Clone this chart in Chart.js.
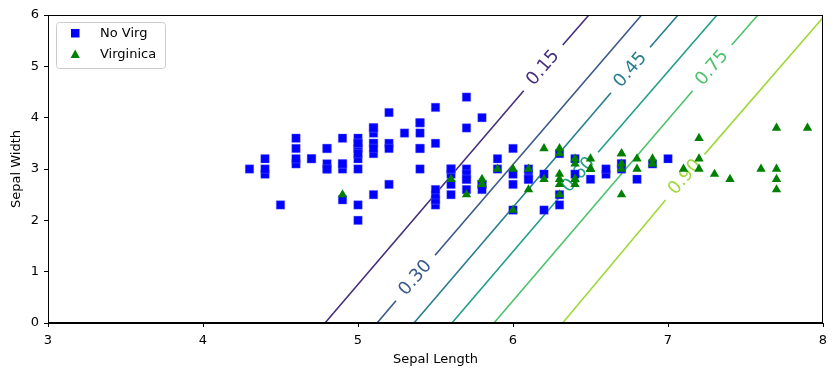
<!DOCTYPE html>
<html><head><meta charset="utf-8">
<script src="https://cdn.jsdelivr.net/npm/chart.js@4.4.0/dist/chart.umd.min.js"></script>
<style>html,body{margin:0;padding:0;background:#fff}#wrap{width:837px;height:376px;position:relative}</style>
</head><body><div id="wrap"><canvas id="c"></canvas></div>
<script>
// ---- data ----
const noVirgX = [5.1,4.9,4.7,4.6,5.0,5.4,4.6,5.0,4.4,4.9,5.4,4.8,4.8,4.3,5.8,5.7,5.4,5.1,5.7,5.1,5.4,5.1,4.6,5.1,4.8,5.0,5.0,5.2,5.2,4.7,4.8,5.4,5.2,5.5,4.9,5.0,5.5,4.9,4.4,5.1,5.0,4.5,4.4,5.0,5.1,4.8,5.1,4.6,5.3,5.0,
  7.0,6.4,6.9,5.5,6.5,5.7,6.3,4.9,6.6,5.2,5.0,5.9,6.0,6.1,5.6,6.7,5.6,5.8,6.2,5.6,5.9,6.1,6.3,6.1,6.4,6.6,6.8,6.7,6.0,5.7,5.5,5.5,5.8,6.0,5.4,6.0,6.7,6.3,5.6,5.5,5.5,6.1,5.8,5.0,5.6,5.7,5.7,6.2,5.1,5.7];
const noVirgY = [3.5,3.0,3.2,3.1,3.6,3.9,3.4,3.4,2.9,3.1,3.7,3.4,3.0,3.0,4.0,4.4,3.9,3.5,3.8,3.8,3.4,3.7,3.6,3.3,3.4,3.0,3.4,3.5,3.4,3.2,3.1,3.4,4.1,4.2,3.1,3.2,3.5,3.6,3.0,3.4,3.5,2.3,3.2,3.5,3.8,3.0,3.8,3.2,3.7,3.3,
  3.2,3.2,3.1,2.3,2.8,2.8,3.3,2.4,2.9,2.7,2.0,3.0,2.2,2.9,2.9,3.1,3.0,2.7,2.2,2.5,3.2,2.8,2.5,2.8,2.9,3.0,2.8,3.0,2.9,2.6,2.4,2.4,2.7,2.7,3.0,3.4,3.1,2.3,3.0,2.5,2.6,3.0,2.6,2.3,2.7,3.0,2.9,2.9,2.5,2.8];
const virgX = [6.3,5.8,7.1,6.3,6.5,7.6,4.9,7.3,6.7,7.2,6.5,6.4,6.8,5.7,5.8,6.4,6.5,7.7,7.7,6.0,6.9,5.6,7.7,6.3,6.7,7.2,6.2,6.1,6.4,7.2,7.4,7.9,6.4,6.3,6.1,7.7,6.3,6.4,6.0,6.9,6.7,6.9,5.8,6.8,6.7,6.7,6.3,6.5,6.2,5.9];
const virgY = [3.3,2.7,3.0,2.9,3.0,3.0,2.5,2.9,2.5,3.6,3.2,2.7,3.0,2.5,2.8,3.2,3.0,3.8,2.6,2.2,3.2,2.8,2.8,2.7,3.3,3.2,2.8,3.0,2.8,3.0,2.8,3.8,2.8,2.8,2.6,3.0,3.4,3.1,3.0,3.1,3.1,3.1,2.7,3.2,3.3,3.0,2.5,3.0,3.4,3.0];

const contourLevels = ['0.15','0.30','0.45','0.60','0.75','0.90'];
const contourStartX = [4.787, 5.123, 5.361, 5.606, 5.877, 6.32];
const contourStartY = [0, 0, 0, 0, 0, 0];
const contourEndX   = [6.49, 6.83, 7.065, 7.316, 7.58, 8.0];
const contourEndY   = [6, 6, 6, 6, 6, 5.95];
const labelX = [6.195, 5.371, 6.758, 6.423, 7.285, 7.11];
const labelY = [4.97, 0.876, 4.93, 2.883, 4.97, 2.84];

const xTicks = [3,4,5,6,7,8];
const yTicks = [0,1,2,3,4,5,6];
const seriesNames = ['No Virg','Virginica'];
const xTitle = 'Sepal Length';
const yTitle = 'Sepal Width';

// ---- styles ----
const contourColors = ['#46307e','#3a5a8c','#287e8e','#22a087','#4cc26c','#a0d93b'];
const FONT = 'DejaVu Sans';
const HALF_GAP_PX = 30;
const PX_X = 775/5, PX_Y = 308/6; // approx px per unit, only to size label gaps

const contourSets = contourLevels.map((lv, i) => {
  const dx = contourEndX[i]-contourStartX[i], dy = contourEndY[i]-contourStartY[i];
  const len = Math.hypot(dx*PX_X, dy*PX_Y);
  const f = HALF_GAP_PX/len;
  return {
    type: 'line', label: 'c'+lv,
    data: [
      {x: contourStartX[i], y: contourStartY[i]},
      {x: labelX[i]-f*dx, y: labelY[i]-f*dy},
      {x: null, y: null},
      {x: labelX[i]+f*dx, y: labelY[i]+f*dy},
      {x: contourEndX[i], y: contourEndY[i]}
    ],
    borderColor: contourColors[i], borderWidth: 1.6, pointRadius: 0,
    spanGaps: false, showLine: true, fill: false, order: 5, tension: 0
  };
});

const frameAndLabels = {
  id: 'frameAndLabels',
  beforeDatasetsDraw(chart) {
    const ctx = chart.ctx, xs = chart.scales.x, ys = chart.scales.y;
    ctx.save();
    ctx.beginPath();
    ctx.rect(chart.chartArea.left, chart.chartArea.top, chart.chartArea.width, chart.chartArea.height);
    ctx.clip();
    ctx.font = '18px "' + FONT + '"';
    ctx.textAlign = 'center'; ctx.textBaseline = 'middle';
    contourLevels.forEach((lv, i) => {
      const px0 = xs.getPixelForValue(contourStartX[i]), py0 = ys.getPixelForValue(contourStartY[i]);
      const px1 = xs.getPixelForValue(contourEndX[i]), py1 = ys.getPixelForValue(contourEndY[i]);
      const ang = Math.atan2(py1-py0, px1-px0);
      const cx = xs.getPixelForValue(labelX[i]), cy = ys.getPixelForValue(labelY[i]);
      ctx.save();
      ctx.translate(cx, cy);
      ctx.rotate(ang);
      ctx.fillStyle = contourColors[i];
      ctx.fillText(lv, 0, 0);
      ctx.restore();
    });
    ctx.restore();
  },
  afterDraw(chart) {
    const ctx = chart.ctx, a = chart.chartArea;
    ctx.save();
    ctx.strokeStyle = '#000'; ctx.lineWidth = 1;
    ctx.strokeRect(Math.round(a.left)+0.5, Math.round(a.top)+0.5, Math.round(a.width)-1, Math.round(a.height)-1);
    // legend
    const lx = 56, ly = 22, lw = 109, lh = 46, r = 3;
    ctx.beginPath();
    ctx.moveTo(lx+r+0.5, ly+0.5);
    ctx.arcTo(lx+lw+0.5, ly+0.5, lx+lw+0.5, ly+lh+0.5, r);
    ctx.arcTo(lx+lw+0.5, ly+lh+0.5, lx+0.5, ly+lh+0.5, r);
    ctx.arcTo(lx+0.5, ly+lh+0.5, lx+0.5, ly+0.5, r);
    ctx.arcTo(lx+0.5, ly+0.5, lx+lw+0.5, ly+0.5, r);
    ctx.closePath();
    ctx.fillStyle = 'rgba(255,255,255,0.8)'; ctx.fill();
    ctx.strokeStyle = '#cccccc'; ctx.stroke();
    ctx.fillStyle = '#0000ff';
    ctx.fillRect(71, 29, 8.5, 8.5);
    ctx.fillStyle = '#008000';
    ctx.beginPath(); ctx.moveTo(75.2, 49.5); ctx.lineTo(79.8, 58); ctx.lineTo(70.6, 58); ctx.closePath(); ctx.fill();
    ctx.fillStyle = '#000'; ctx.font = '13px "' + FONT + '"';
    ctx.textAlign = 'left'; ctx.textBaseline = 'middle';
    ctx.fillText(seriesNames[0], 100, 33.5);
    ctx.fillText(seriesNames[1], 100, 54.5);
    ctx.restore();
  }
};

const tickFont = {family: FONT, size: 13};
new Chart(document.getElementById('c'), {
  type: 'scatter',
  data: {
    datasets: [
      { label: seriesNames[1], data: virgX.map((x,i)=>({x, y: virgY[i]})),
        pointStyle: 'triangle', pointRadius: 5.4, pointBackgroundColor: '#008000',
        pointBorderColor: '#008000', pointBorderWidth: 0, order: 0 },
      { label: seriesNames[0], data: noVirgX.map((x,i)=>({x, y: noVirgY[i]})),
        pointStyle: 'rect', pointRadius: 6, pointBackgroundColor: '#0000ff',
        pointBorderColor: 'rgba(120,120,255,0.6)', pointBorderWidth: 0.6, order: 1 },
      ...contourSets
    ]
  },
  options: {
    responsive: true, maintainAspectRatio: false, animation: false, devicePixelRatio: 1,
    layout: { padding: { top: 15, right: 14, left: 0, bottom: 0 } },
    plugins: { legend: { display: false }, tooltip: { enabled: false } },
    scales: {
      x: {
        type: 'linear', min: 3, max: 8,
        afterBuildTicks: s => { s.ticks = xTicks.map(v => ({value: v})); },
        afterFit: s => { s.height = 53; },
        ticks: { font: tickFont, color: '#000', padding: 6, maxRotation: 0, callback: v => String(v) },
        grid: { display: true, drawOnChartArea: false, drawTicks: true, tickLength: 4, color: '#000', lineWidth: 1 },
        border: { display: true, color: '#000', width: 1 },
        title: { display: true, text: xTitle, font: tickFont, color: '#000', padding: { top: 2, bottom: 9 } }
      },
      y: {
        type: 'linear', min: 0, max: 6,
        afterBuildTicks: s => { s.ticks = yTicks.map(v => ({value: v})); },
        afterFit: s => { s.width = 48; },
        ticks: { font: tickFont, color: '#000', padding: 5, callback: v => String(v) },
        grid: { display: true, drawOnChartArea: false, drawTicks: true, tickLength: 4, color: '#000', lineWidth: 1 },
        border: { display: true, color: '#000', width: 1 },
        title: { display: true, text: yTitle, font: tickFont, color: '#000', padding: { top: 9, bottom: 0 } }
      }
    }
  },
  plugins: [frameAndLabels]
});
</script></body></html>
